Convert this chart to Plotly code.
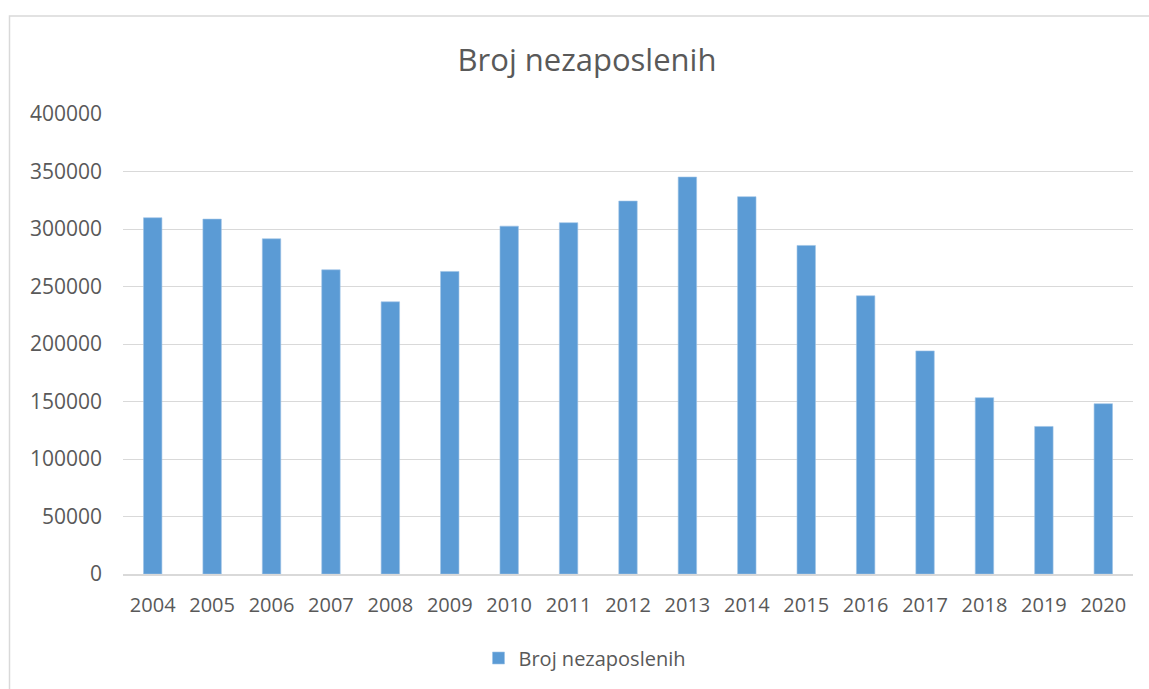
import plotly.graph_objects as go

years = ["2004", "2005", "2006", "2007", "2008", "2009", "2010", "2011", "2012",
         "2013", "2014", "2015", "2016", "2017", "2018", "2019", "2020"]
unemployed = [309800, 308600, 291500, 264500, 236700, 263100, 302500, 305500, 324300,
              345200, 328100, 285700, 241900, 194000, 153300, 128300, 148100]
series_name = "Broj nezaposlenih"
title_text = "Broj nezaposlenih"
y_ticks = [0, 50000, 100000, 150000, 200000, 250000, 300000, 350000, 400000]

W, H = 1149, 689
L, R, T, B = 123, 16, 114, 115
pw = W - L - R
ph = H - T - B

fig = go.Figure()
fig.add_trace(go.Bar(
    x=years, y=unemployed, name=series_name,
    marker=dict(color="#5B9BD5", line=dict(color="#9DC3E6", width=0.6)),
    showlegend=True,
))

def px_x(x):
    return (x - L) / pw

def px_y(y):
    return (H - B - y) / ph

fig.update_layout(
    width=W, height=H,
    margin=dict(l=L, r=R, t=T, b=B),
    paper_bgcolor="white", plot_bgcolor="white",
    font=dict(family="Open Sans", color="#595959", size=20),
    title=dict(text=title_text, x=587 / W, xanchor="center",
               y=(H - 60) / H, yanchor="middle", yref="container",
               font=dict(size=31, color="#595959", family="Open Sans")),
    bargap=0.69,
    showlegend=True,
    legend=dict(orientation="h", x=px_x(585), xanchor="center",
                y=px_y(658), yanchor="middle",
                font=dict(size=20, color="#595959"),
                itemwidth=30, bgcolor="rgba(0,0,0,0)"),
    xaxis=dict(showgrid=False, showline=True, linecolor="#d9d9d9", linewidth=1.5,
               ticks="", tickfont=dict(size=20, color="#595959"),
               ticklabelstandoff=12),
    yaxis=dict(range=[0, 400000], tickvals=y_ticks,
               ticktext=[str(v) for v in y_ticks],
               showgrid=True, gridcolor="#d9d9d9", gridwidth=1.3,
               zeroline=False, showline=False, ticks="",
               tickfont=dict(size=21, color="#595959"),
               ticklabelstandoff=20),
    shapes=[dict(type="rect", xref="paper", yref="paper",
                 x0=px_x(9.5), x1=px_x(1160), y0=px_y(700), y1=px_y(16),
                 line=dict(color="#d9d9d9", width=1.5), fillcolor="rgba(0,0,0,0)",
                 layer="below")],
)

fig.write_html("out.html",
               config={"displayModeBar": False},
               post_script="document.body.style.margin='0';document.body.style.overflow='hidden';")
